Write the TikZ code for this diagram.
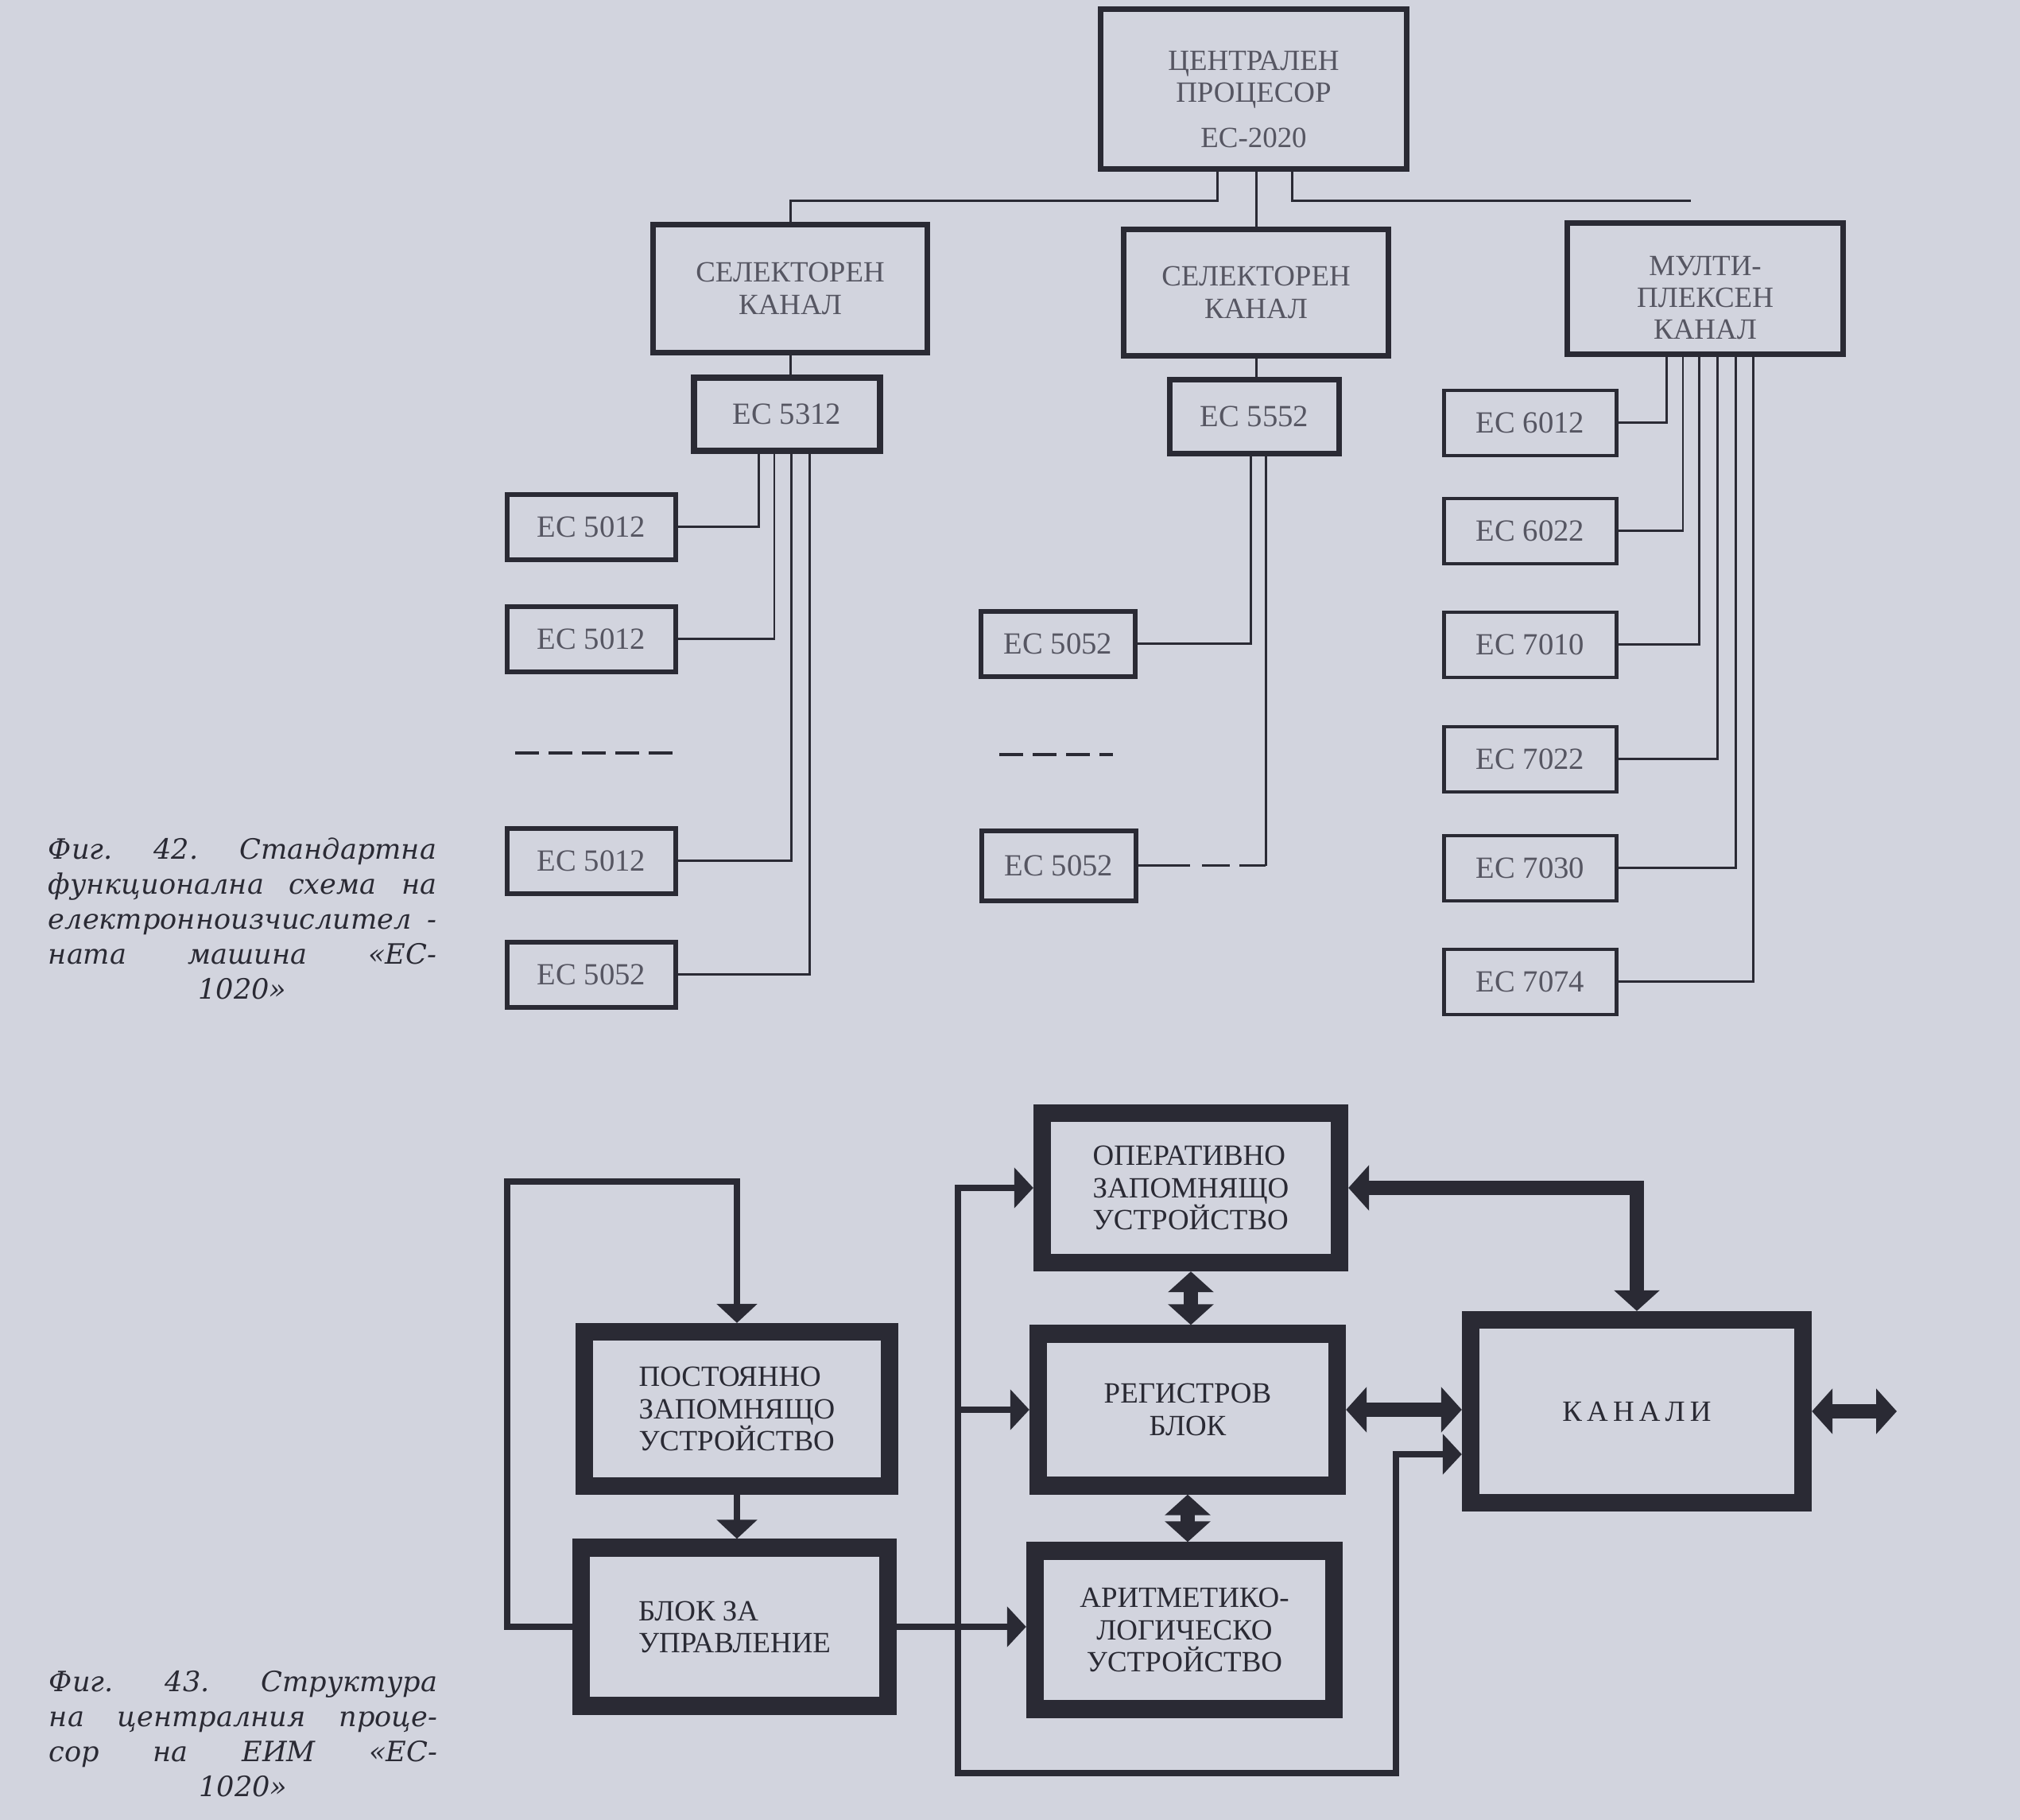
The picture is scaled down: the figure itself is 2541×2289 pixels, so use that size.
\documentclass[tikz,border=0pt]{standalone}
\usepackage{fontspec}
\setmainfont{Liberation Serif}
\newfontfamily\capfont{DejaVu Serif}
\usetikzlibrary{arrows.meta}
\definecolor{paper}{RGB}{210,212,222}
\definecolor{ink}{RGB}{42,42,52}
\definecolor{greyink}{RGB}{86,86,98}
\tikzset{
  topbox/.style={draw=ink, line width=2pt, inner sep=0pt, align=center, text=greyink, font=\fontsize{10.5}{11.4}\selectfont},
  boxtext/.style={inner sep=0pt, align=center, text=greyink, font=\fontsize{10.5}{11.4}\selectfont},
  ecbox/.style={draw=ink, line width=1.7pt, inner sep=0pt, minimum height=0.82cm, text=greyink, font=\fontsize{11}{12}\selectfont},
  link/.style={draw=ink, line width=0.85pt},
  dots/.style={draw=ink, line width=1pt, dash pattern=on 0.3cm off 0.12cm},
  cpubox/.style={draw=ink, line width=6.3pt, inner sep=0pt, text=ink, font=\fontsize{10.5}{11.4}\selectfont},
  ctrl/.style={draw=ink, line width=2.3pt, line cap=rect, -{Triangle[width=0.5cm,length=0.24cm]}},
  both/.style={draw=ink, line width=5pt, {Triangle[width=0.56cm,length=0.26cm]}-{Triangle[width=0.56cm,length=0.26cm]}},
  caption/.style={inner sep=0pt, text=ink, align=center, font=\capfont\itshape\fontsize{10}{12.5}\selectfont},
}
\begin{document}
\begin{tikzpicture}[x=0.01cm, y=-0.01cm]
    \def\ecw{2.12cm}
    \def\mxw{2.16cm}
    \def\capw{4.88cm}
    \fill[paper] (0,0) rectangle (2541,2289);

% фиг. 42
    \node[topbox, minimum width=3.84cm, minimum height=2.00cm] (cpu) at (1577,112) {};
    \node[boxtext] (cputext) at (1577,125) {ЦЕНТРАЛЕН\\ПРОЦЕСОР\\[5pt]ЕС-2020};
    \node[topbox, minimum width=3.45cm, minimum height=1.61cm] (sel1) at (994,363) {СЕЛЕКТОРЕН\\КАНАЛ};
    \node[topbox, minimum width=3.33cm, minimum height=1.59cm] (sel2) at (1580,368) {СЕЛЕКТОРЕН\\КАНАЛ};
    \node[topbox, minimum width=3.46cm, minimum height=1.65cm] (mux) at (2145,363) {};
    \node[boxtext] (muxtext) at (2145,375) {МУЛТИ-\\ПЛЕКСЕН\\КАНАЛ};
    \coordinate (busend) at (2127,253);
    \draw[link] ([xshift=-0.45cm]cpu.south) -- ++(0,37) -| (sel1.north);
    \draw[link] (sel2.north) -- (sel2.north |- cpu.south);
    \draw[link] ([xshift=0.48cm]cpu.south) |- (busend);

    \node[ecbox, line width=2.2pt, minimum width=2.34cm, minimum height=0.92cm] (e5312) at (990,521) {ЕС 5312};
    \node[ecbox, line width=2.2pt, minimum width=2.13cm, minimum height=0.93cm] (e5552) at (1578,524) {ЕС 5552};
    \draw[link] (sel1.south) -- (sel1.south |- e5312.north);
    \draw[link] (sel2.south) -- (sel2.south |- e5552.north);

    % ляв клон
    \node[ecbox, minimum width=\ecw] (a1) at (744,663) {ЕС 5012};
    \node[ecbox, minimum width=\ecw] (a2) at (744,804) {ЕС 5012};
    \node[ecbox, minimum width=\ecw] (a3) at (744,1083) {ЕС 5012};
    \node[ecbox, minimum width=\ecw] (a4) at (744,1226) {ЕС 5052};
    \draw[dots] (648,947) -- (846,947);
    \draw[link] (a1.east) -| ([xshift=-0.35cm]e5312.south);
    \draw[link] (a2.east) -| ([xshift=-0.16cm]e5312.south);
    \draw[link] (a3.east) -| ([xshift=0.05cm]e5312.south);
    \draw[link] (a4.east) -| ([xshift=0.28cm]e5312.south);

    % среден клон
    \node[ecbox, minimum width=1.94cm] (b1) at (1331,810) {ЕС 5052};
    \node[ecbox, minimum width=1.94cm, minimum height=0.88cm] (b2) at (1332,1089) {ЕС 5052};
    \draw[dots] (1257,949) -- (1400,949);
    \coordinate (b2up) at ([xshift=0.14cm]e5552.south);
    \draw[link] (b1.east) -| ([xshift=-0.05cm]e5552.south);
    \draw[link] (b2up) -- (b2up |- b2.east);
    \draw[link, dash pattern=on 0.65cm off 0.15cm on 0.35cm off 0.12cm] (b2.east) -- (b2.east -| b2up);

    % десен клон
    \node[ecbox, line width=1.4pt, minimum width=\mxw] (m1) at (1925,532) {ЕС 6012};
    \node[ecbox, line width=1.4pt, minimum width=\mxw] (m2) at (1925,668) {ЕС 6022};
    \node[ecbox, line width=1.4pt, minimum width=\mxw] (m3) at (1925,811) {ЕС 7010};
    \node[ecbox, line width=1.4pt, minimum width=\mxw] (m4) at (1925,955) {ЕС 7022};
    \node[ecbox, line width=1.4pt, minimum width=\mxw] (m5) at (1925,1092) {ЕС 7030};
    \node[ecbox, line width=1.4pt, minimum width=\mxw] (m6) at (1925,1235) {ЕС 7074};
    \draw[link] (m1.east) -| ([xshift=-0.48cm]mux.south);
    \draw[link] (m2.east) -| ([xshift=-0.28cm]mux.south);
    \draw[link] (m3.east) -| ([xshift=-0.08cm]mux.south);
    \draw[link] (m4.east) -| ([xshift=0.15cm]mux.south);
    \draw[link] (m5.east) -| ([xshift=0.38cm]mux.south);
    \draw[link] (m6.east) -| ([xshift=0.60cm]mux.south);

    \node[caption] (fig42) at (305,1155) {\makebox[\capw][s]{Фиг. 42. Стандартна}\\\makebox[\capw][s]{функционална схема на}\\\makebox[\capw][s]{електронноизчислител -}\\\makebox[\capw][s]{ната машина «ЕС-}\\1020»};

% фиг. 43
    \node[cpubox, minimum width=3.83cm, minimum height=1.94cm, align=left] (pzu) at (927,1772) {ПОСТОЯННО\\ЗАПОМНЯЩО\\УСТРОЙСТВО};
    \node[cpubox, minimum width=3.85cm, minimum height=1.99cm, align=left] (upr) at (924,2046) {БЛОК ЗА\\УПРАВЛЕНИЕ};
    \node[cpubox, minimum width=3.74cm, minimum height=1.88cm, align=left] (ozu) at (1498,1494) {ОПЕРАТИВНО\\ЗАПОМНЯЩО\\УСТРОЙСТВО};
    \node[cpubox, minimum width=3.76cm, minimum height=1.91cm, align=center] (reg) at (1494,1773) {РЕГИСТРОВ\\БЛОК};
    \node[cpubox, minimum width=3.76cm, minimum height=1.99cm, align=center] (alu) at (1490,2050) {АРИТМЕТИКО-\\ЛОГИЧЕСКО\\УСТРОЙСТВО};
    \node[cpubox, minimum width=4.18cm, minimum height=2.30cm] (kan) at (2059,1775) {К\,А\,Н\,А\,Л\,И};

    \coordinate (loop) at (638,1486);
    \coordinate (busb) at (1205,2230);
    \coordinate (busc) at (1756,2230);
    \coordinate (kanout) at (2386,1775);
    % тънки стрелки
    \draw[ctrl] (upr.west) -| (loop) -| (pzu.north);
    \draw[ctrl] (pzu.south) -- (pzu.south |- upr.north);
    \draw[ctrl] (upr.east) -- (upr.east -| alu.west);
    \draw[ctrl] (busc) -- (busb) |- (ozu.west);
    \draw[ctrl] (busb |- reg.west) -- (reg.west);
    \draw[ctrl] (busc) |- ([yshift=-0.54cm]kan.west);
    % дебели стрелки
    \draw[both] (ozu.south) -- (ozu.south |- reg.north);
    \draw[both] (reg.south) -- (reg.south |- alu.north);
    \draw[both] (reg.east) -- (reg.east -| kan.west);
    \draw[both] (ozu.east) -| (kan.north);
    \draw[both] (kan.east) -- (kanout);

    \node[caption] (fig43) at (306,2181) {\makebox[\capw][s]{Фиг. 43. Структура}\\\makebox[\capw][s]{на централния проце-}\\\makebox[\capw][s]{сор на ЕИМ «ЕС-}\\1020»};
\end{tikzpicture}
\end{document}
